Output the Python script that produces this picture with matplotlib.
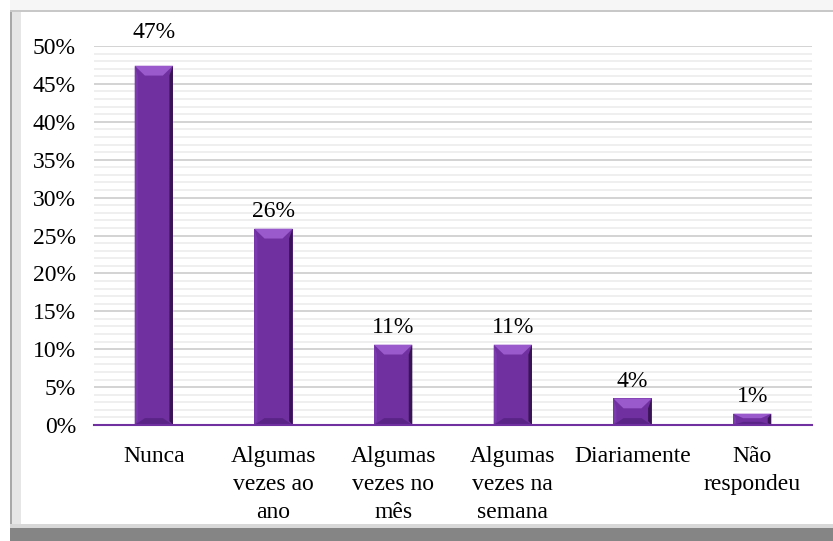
import numpy as np
import matplotlib.pyplot as plt
from matplotlib.patches import Polygon, Rectangle
from matplotlib.ticker import MultipleLocator, PercentFormatter

plt.rcParams['font.family'] = ['Liberation Serif', 'DejaVu Serif']

# Data
categories = ["Nunca", "Algumas\nvezes ao\nano", "Algumas\nvezes no\nmês",
              "Algumas\nvezes na\nsemana", "Diariamente", "Não\nrespondeu"]
values = [47.4, 25.9, 10.6, 10.6, 3.5, 1.5]
labels = ["47%", "26%", "11%", "11%", "4%", "1%"]
y_ticks = [0, 5, 10, 15, 20, 25, 30, 35, 40, 45, 50]

face = "#7030A0"
top_col = "#9A5ACB"
left_col = "#7B3AAE"
right_col = "#3A1556"
bottom_col = "#5A2487"

fig = plt.figure(figsize=(8.33, 5.41), dpi=100)

# frame with bevel and shadow
def frect(x, y, w, h, fc, ec="none", z=-8, lw=0):
    fig.patches.append(Rectangle((x / 833, y / 541), w / 833, h / 541, transform=fig.transFigure,
                                 facecolor=fc, edgecolor=ec, linewidth=lw, zorder=z))

frect(0, 0, 833, 541, "white", z=-10)
frect(10, 0, 823, 13, "#858585", z=-9)
frect(10, 13, 823, 4, "#d8d8d8", z=-9)
frect(10, 529, 823, 2, "#c8c8c8", z=-9)
frect(10, 531, 823, 10, "#f6f6f6", z=-9)
frect(10, 17, 2, 512, "#a8a8a8", z=-9)
frect(12, 17, 9, 512, "#e6e6e6", z=-9)

ax = fig.add_axes([94 / 833, 116 / 541, (812 - 94) / 833, (425 - 46) / 541])
ax.set_facecolor("none")
ax.set_xlim(-0.5, len(categories) - 0.5)
ax.set_ylim(0, 50)

# gridlines
ax.yaxis.set_major_locator(MultipleLocator(5))
ax.yaxis.set_minor_locator(MultipleLocator(1))
ax.grid(which="major", axis="y", color="#d0d0d0", linewidth=1.3, zorder=0)
ax.grid(which="minor", axis="y", color="#ebebeb", linewidth=1.1, zorder=0)
ax.set_axisbelow(True)

# bevelled bars
w = 0.32
bx = 0.085
label_offsets = [16, 5, 5, 5, 5, 5]
for i, v in enumerate(values):
    x0, x1 = i - w / 2, i + w / 2
    by = min(1.3, v / 2.5)
    ax.add_patch(Polygon([(x0, 0), (x1, 0), (x1, v), (x0, v)], closed=True,
                         facecolor=face, edgecolor="none", zorder=3))
    ax.add_patch(Polygon([(x0, 0), (x1, 0), (x1 - bx, by * 0.7), (x0 + bx, by * 0.7)],
                         closed=True, facecolor=bottom_col, edgecolor="none", zorder=4))
    ax.add_patch(Polygon([(x1, v), (x1, 0), (x1 - bx * 0.35, by * 0.4), (x1 - bx * 0.35, v - by)],
                         closed=True, facecolor=right_col, edgecolor="none", zorder=4))
    ax.add_patch(Polygon([(x0, v), (x0, 0), (x0 + bx * 0.3, by * 0.4), (x0 + bx * 0.3, v - by)],
                         closed=True, facecolor=left_col, edgecolor="none", zorder=4))
    ax.add_patch(Polygon([(x0, v), (x1, v), (x1 - bx, v - by), (x0 + bx, v - by)],
                         closed=True, facecolor=top_col, edgecolor="none", zorder=5))
    ax.annotate(labels[i], (i, v), xytext=(0, label_offsets[i]), textcoords="offset points",
                ha="center", va="bottom", fontsize=17, zorder=6)

ax.set_xticks(range(len(categories)))
ax.set_xticklabels(categories, fontsize=17, linespacing=1.45)
ax.set_yticks(y_ticks)
ax.yaxis.set_major_formatter(PercentFormatter(decimals=0))
ax.tick_params(axis="y", labelsize=17, length=0, pad=13, which="both")
ax.tick_params(axis="x", length=0, pad=15)

for s in ["top", "right", "left"]:
    ax.spines[s].set_visible(False)
ax.spines["bottom"].set_color("#7030A0")
ax.spines["bottom"].set_linewidth(1.5)
ax.spines["bottom"].set_zorder(7)

fig.savefig("out.png", dpi=100)
